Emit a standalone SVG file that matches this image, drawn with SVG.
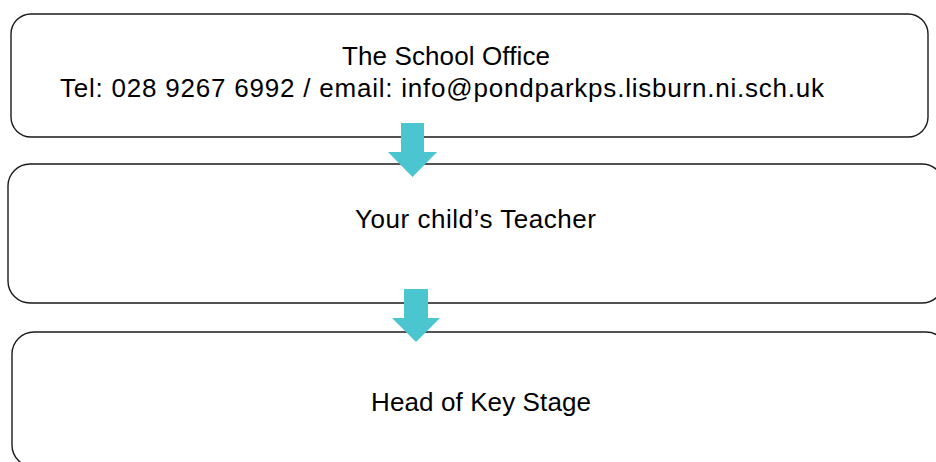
<svg xmlns="http://www.w3.org/2000/svg" width="936" height="462" viewBox="0 0 936 462">
<style>
.box{fill:#fff;stroke:#1a1a1a;stroke-width:1.4}
.t{font-family:"Liberation Sans",Arial,sans-serif;font-size:26px;fill:#000}
.arrow{fill:#4BC5CF}
</style>
<rect width="936" height="462" fill="#fff"/>
<g id="office">
<rect class="box" x="11" y="14" width="917" height="123" rx="20" ry="20"/>
<text class="t" x="342" y="65" textLength="208" lengthAdjust="spacing">The School Office</text>
<text class="t" x="60" y="97" textLength="764" lengthAdjust="spacing">Tel: 028 9267 6992 / email: info@pondparkps.lisburn.ni.sch.uk</text>
</g>
<g id="teacher">
<rect class="box" x="8" y="164" width="936" height="139" rx="22" ry="22"/>
<text class="t" x="355" y="228" textLength="241" lengthAdjust="spacing">Your child’s Teacher</text>
</g>
<g id="keystage">
<rect class="box" x="12" y="332" width="936" height="135" rx="22" ry="22"/>
<text class="t" x="371" y="411" textLength="220" lengthAdjust="spacing">Head of Key Stage</text>
</g>
<g id="connectors">
<polygon class="arrow" points="401,123 424,123 424,152 437,152 412.5,177 388,152 401,152"/>
<polygon class="arrow" points="404,289 428,289 428,318 440,318 416,342 392,318 404,318"/>
</g>
</svg>
